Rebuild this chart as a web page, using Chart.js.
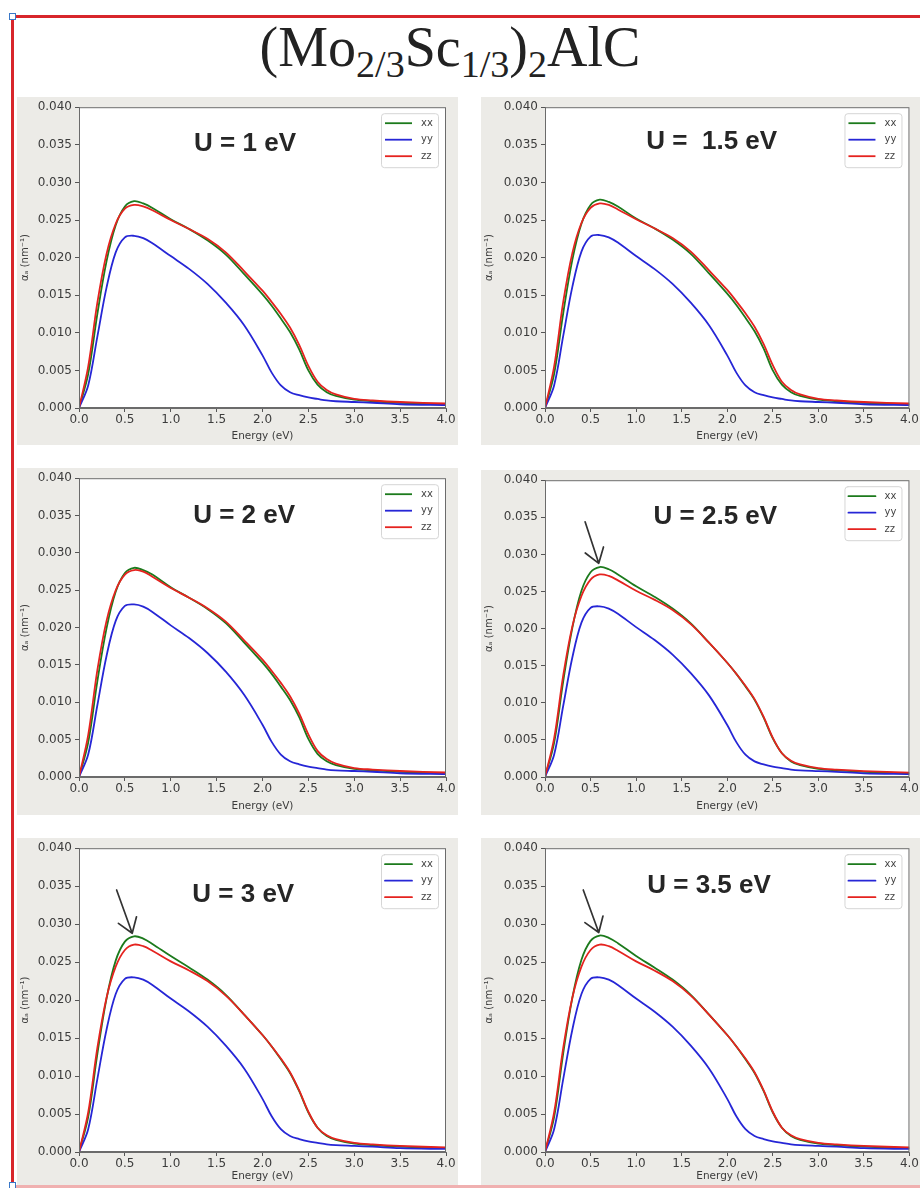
<!DOCTYPE html>
<html>
<head>
<meta charset="utf-8">
<script src="https://cdn.jsdelivr.net/npm/chart.js@4.4.1/dist/chart.umd.min.js"></script>
<style>
  body { margin: 0; width: 920px; height: 1188px; position: relative; overflow: hidden; background: #fff; }
  #frame { position: absolute; left: 11px; top: 15px; width: 930px; height: 1173px; border: 3px solid #d8262b;
           border-bottom-color: #f0b0b0; box-sizing: border-box; }
  .handle { position: absolute; width: 5px; height: 5px; border: 1px solid #3a78c8; background: #fff; }
  #title { position: absolute; left: 0; width: 900px; top: 19px; text-align: center;
           font-family: "Liberation Serif", serif; font-size: 56px; line-height: 1; color: #222; }
  #title sub { font-size: 0.68em; vertical-align: -0.28em; line-height: 0; color: #222; }
  .panel { position: absolute; background: #ecebe7; }
  .panel canvas { display: block; }
</style>
</head>
<body>
<div id="frame"></div>
<div class="handle" style="left:9px; top:13px;"></div>
<div class="handle" style="left:9px; top:1182px;"></div>
<div id="title">(Mo<sub>2/3</sub>Sc<sub>1/3</sub>)<sub>2</sub>AlC</div>

<script>
// --- data (alpha in nm^-1 vs energy in eV) ---
const energy = [0, 0.1, 0.2, 0.3, 0.4, 0.5, 0.6, 0.7, 0.8, 1.0, 1.2, 1.4, 1.6, 1.8, 2.0, 2.1, 2.2, 2.3, 2.4, 2.5, 2.6, 2.7, 2.8, 3.0, 3.2, 3.5, 4.0];

const xTicks = [0, 0.5, 1.0, 1.5, 2.0, 2.5, 3.0, 3.5, 4.0];
const yTicks = [0, 0.005, 0.010, 0.015, 0.020, 0.025, 0.030, 0.035, 0.040];
const seriesNames = ['xx', 'yy', 'zz'];
const panelLabels = ['U = 1 eV', 'U =  1.5 eV', 'U = 2 eV', 'U = 2.5 eV', 'U = 3 eV', 'U = 3.5 eV'];

// U = 1 eV
const xxU1 = [0, .0045, .0125, .0195, .0243, .0268, .0275, .0272, .0266, .0251, .0238, .0223, .0204, .0178, .0151, .0136, .0119, .0101, .0078, .0050, .0031, .0021, .0016, .0011, .0009, .0007, .0005];
const yyU1 = [0, .0030, .0095, .0160, .0207, .0227, .0229, .0226, .0219, .0202, .0185, .0165, .0140, .0110, .0070, .0047, .0030, .0021, .0017, .0014, .0012, .0010, .0009, .0008, .0007, .0005, .0004];
const zzU1 = [0, .0055, .0140, .0205, .0245, .0265, .0270, .0268, .0263, .0250, .0238, .0225, .0207, .0182, .0156, .0141, .0125, .0107, .0084, .0056, .0035, .0024, .0018, .0012, .0010, .0008, .0006];
// U = 1.5 eV
const xxU15 = [0, .0045, .0126, .0197, .0245, .0270, .0277, .0274, .0268, .0252, .0239, .0224, .0205, .0179, .0152, .0137, .0120, .0102, .0079, .0050, .0031, .0021, .0016, .0011, .0009, .0007, .0005];
const yyU15 = [0, .0030, .0096, .0161, .0208, .0228, .0230, .0227, .0220, .0202, .0185, .0165, .0140, .0110, .0070, .0047, .0030, .0021, .0017, .0014, .0012, .0010, .0009, .0008, .0007, .0005, .0004];
const zzU15 = [0, .0055, .0141, .0206, .0246, .0266, .0272, .0270, .0264, .0251, .0239, .0226, .0208, .0183, .0157, .0142, .0126, .0108, .0085, .0057, .0035, .0024, .0018, .0012, .0010, .0008, .0006];
// U = 2 eV
const xxU2 = [0, .0046, .0128, .0199, .0248, .0273, .0280, .0277, .0271, .0254, .0240, .0225, .0206, .0180, .0153, .0138, .0121, .0103, .0080, .0051, .0031, .0021, .0016, .0011, .0009, .0007, .0005];
const yyU2 = [0, .0030, .0096, .0162, .0209, .0229, .0231, .0228, .0221, .0203, .0186, .0166, .0141, .0110, .0070, .0047, .0030, .0021, .0017, .0014, .0012, .0010, .0009, .0008, .0007, .0005, .0004];
const zzU2 = [0, .0056, .0143, .0209, .0250, .0271, .0277, .0275, .0268, .0253, .0240, .0226, .0208, .0183, .0157, .0142, .0126, .0108, .0085, .0057, .0035, .0024, .0018, .0012, .0010, .0008, .0006];
// U = 2.5 eV
const xxU25 = [0, .0046, .0129, .0201, .0251, .0276, .0283, .0280, .0273, .0257, .0243, .0227, .0207, .0181, .0154, .0139, .0122, .0104, .0080, .0052, .0032, .0021, .0016, .0011, .0009, .0007, .0005];
const yyU25 = [0, .0030, .0096, .0161, .0208, .0228, .0230, .0227, .0220, .0202, .0185, .0165, .0140, .0110, .0070, .0047, .0030, .0021, .0017, .0014, .0012, .0010, .0009, .0008, .0007, .0005, .0004];
const zzU25 = [0, .0052, .0137, .0203, .0244, .0266, .0273, .0271, .0265, .0251, .0239, .0225, .0206, .0181, .0154, .0139, .0123, .0105, .0081, .0053, .0032, .0022, .0017, .0012, .0010, .0008, .0006];
// U = 3 eV
const xxU3 = [0, .0046, .0129, .0202, .0252, .0277, .0284, .0281, .0274, .0258, .0243, .0227, .0207, .0181, .0154, .0139, .0122, .0104, .0080, .0052, .0032, .0021, .0016, .0011, .0009, .0007, .0005];
const yyU3 = [0, .0030, .0096, .0161, .0208, .0228, .0230, .0227, .0220, .0202, .0185, .0165, .0140, .0110, .0070, .0047, .0030, .0021, .0017, .0014, .0012, .0010, .0009, .0008, .0007, .0005, .0004];
const zzU3 = [0, .0052, .0137, .0203, .0244, .0266, .0273, .0271, .0265, .0251, .0239, .0225, .0206, .0181, .0154, .0139, .0123, .0105, .0081, .0053, .0032, .0022, .0017, .0012, .0010, .0008, .0006];
// U = 3.5 eV
const xxU35 = [0, .0046, .0130, .0203, .0253, .0278, .0285, .0282, .0275, .0258, .0243, .0227, .0207, .0181, .0154, .0139, .0122, .0104, .0080, .0052, .0032, .0021, .0016, .0011, .0009, .0007, .0005];
const yyU35 = [0, .0030, .0096, .0161, .0208, .0228, .0230, .0227, .0220, .0202, .0185, .0165, .0140, .0110, .0070, .0047, .0030, .0021, .0017, .0014, .0012, .0010, .0009, .0008, .0007, .0005, .0004];
const zzU35 = [0, .0052, .0137, .0203, .0244, .0266, .0273, .0271, .0265, .0251, .0239, .0225, .0206, .0181, .0154, .0139, .0123, .0105, .0081, .0053, .0032, .0022, .0017, .0012, .0010, .0008, .0006];

const panelSeries = [
  [xxU1, yyU1, zzU1],
  [xxU15, yyU15, zzU15],
  [xxU2, yyU2, zzU2],
  [xxU25, yyU25, zzU25],
  [xxU3, yyU3, zzU3],
  [xxU35, yyU35, zzU35]
];

// --- layout: grey panel box and plot area, in page pixels ---
const layout = [
  { bg: [17, 97, 441, 348],  plot: [79, 105, 446, 408],  label: [1.81, 0.0351], arrow: null },
  { bg: [481, 97, 439, 348], plot: [545, 105, 910, 408], label: [1.83, 0.0354], arrow: null },
  { bg: [17, 468, 441, 347], plot: [79, 478, 446, 777],  label: [1.80, 0.0350], arrow: null },
  { bg: [481, 470, 439, 345], plot: [545, 478, 910, 777], label: [1.87, 0.0350], arrow: [[0.44, 0.0344], [0.59, 0.0288]] },
  { bg: [17, 838, 441, 347], plot: [79, 848, 446, 1152], label: [1.79, 0.0338], arrow: [[0.41, 0.0345], [0.58, 0.0288]] },
  { bg: [481, 838, 439, 347], plot: [545, 848, 910, 1152], label: [1.80, 0.0351], arrow: [[0.42, 0.0345], [0.59, 0.0289]] }
];

const lineColors = ['#1c7a1c', '#2626d6', '#e5231f'];
const tickFont = { family: 'DejaVu Sans', size: 12 };

// white plot area, box, "U = .." label, arrow and legend inside the plot
function makeDecor(info) {
  return {
    id: 'decor',
    beforeDraw(chart) {
      const { ctx, chartArea: a } = chart;
      ctx.save();
      ctx.fillStyle = '#ffffff';
      ctx.fillRect(a.left, a.top, a.right - a.left, a.bottom - a.top);
      ctx.restore();
    },
    afterDraw(chart) {
      const { ctx, chartArea: a, scales: { x, y } } = chart;
      ctx.save();
      ctx.strokeStyle = '#6b6b6b';
      ctx.lineWidth = 1;
      ctx.strokeRect(a.left + 0.5, a.top + 0.5, a.right - a.left - 1, a.bottom - a.top - 1);

      ctx.font = 'bold 26px "Liberation Sans", Arial, sans-serif';
      ctx.fillStyle = '#262626';
      ctx.textAlign = 'center';
      ctx.textBaseline = 'middle';
      ctx.fillText(info.text, x.getPixelForValue(info.label[0]), y.getPixelForValue(info.label[1]));

      if (info.arrow) {
        const x0 = x.getPixelForValue(info.arrow[0][0]), y0 = y.getPixelForValue(info.arrow[0][1]);
        const x1 = x.getPixelForValue(info.arrow[1][0]), y1 = y.getPixelForValue(info.arrow[1][1]);
        const ang = Math.atan2(y1 - y0, x1 - x0);
        ctx.strokeStyle = '#333';
        ctx.lineWidth = 1.7;
        ctx.lineCap = 'round';
        ctx.beginPath();
        ctx.moveTo(x0, y0); ctx.lineTo(x1, y1);
        [0.6, -0.6].forEach(d => {
          ctx.moveTo(x1, y1);
          ctx.lineTo(x1 - 17 * Math.cos(ang + d), y1 - 17 * Math.sin(ang + d));
        });
        ctx.stroke();
      }

      // legend box, top right
      const bx = a.right - 65, by = a.top + 6, bw = 57, bh = 54;
      ctx.fillStyle = 'rgba(255,255,255,0.85)';
      ctx.strokeStyle = '#d6d6d6';
      ctx.lineWidth = 1;
      ctx.beginPath();
      ctx.roundRect(bx + 0.5, by + 0.5, bw, bh, 3);
      ctx.fill(); ctx.stroke();
      ctx.font = '10px "DejaVu Sans", sans-serif';
      ctx.textAlign = 'left';
      ctx.textBaseline = 'middle';
      seriesNames.forEach((name, i) => {
        const ly = by + 10 + i * 16.5;
        ctx.strokeStyle = lineColors[i];
        ctx.lineWidth = 1.8;
        ctx.beginPath();
        ctx.moveTo(bx + 4, ly); ctx.lineTo(bx + 31, ly);
        ctx.stroke();
        ctx.fillStyle = '#444';
        ctx.fillText(name, bx + 40, ly);
      });
      ctx.restore();
    }
  };
}

layout.forEach((box, p) => {
  const [bx, by, bw, bh] = box.bg;
  const [pl, pt, pr, pb] = box.plot;
  const div = document.createElement('div');
  div.className = 'panel';
  div.style.left = bx + 'px';
  div.style.top = by + 'px';
  div.style.width = bw + 'px';
  div.style.height = bh + 'px';
  const canvas = document.createElement('canvas');
  canvas.width = bw;
  canvas.height = bh;
  div.appendChild(canvas);
  document.body.appendChild(div);

  const axisW = pl - bx, padTop = pt - by, padRight = bx + bw - pr, axisH = by + bh - pb;

  const datasets = panelSeries[p].map((vals, i) => ({
    label: seriesNames[i],
    data: vals.map((v, k) => ({ x: energy[k], y: v })),
    borderColor: lineColors[i],
    borderWidth: 1.8,
    pointRadius: 0,
    fill: false,
    tension: 0.35,
    order: 3 - i
  }));

  new Chart(canvas, {
    type: 'line',
    data: { datasets: datasets },
    options: {
      responsive: false,
      animation: false,
      devicePixelRatio: 1,
      layout: { padding: { top: padTop, right: padRight, left: 0, bottom: 0 } },
      plugins: { legend: { display: false }, tooltip: { enabled: false } },
      scales: {
        x: {
          type: 'linear',
          min: 0, max: 4,
          afterFit: s => { s.height = axisH; },
          afterBuildTicks: s => { s.ticks = xTicks.map(v => ({ value: v })); },
          ticks: { font: tickFont, color: '#3c3c3c', padding: 1, maxRotation: 0, autoSkip: false,
                   callback: v => v.toFixed(1) },
          grid: { drawOnChartArea: false, drawTicks: true, tickLength: 4, tickColor: '#555' },
          border: { display: true, color: '#6b6b6b' },
          title: { display: true, text: 'Energy (eV)', color: '#3c3c3c',
                   font: { family: 'DejaVu Sans', size: 10.5 }, padding: { top: 0, bottom: 2 } }
        },
        y: {
          min: 0, max: 0.04,
          afterFit: s => { s.width = axisW; },
          afterBuildTicks: s => { s.ticks = yTicks.map(v => ({ value: v })); },
          ticks: { font: tickFont, color: '#3c3c3c', padding: 3, autoSkip: false,
                   callback: v => v.toFixed(3) },
          grid: { drawOnChartArea: false, drawTicks: true, tickLength: 4, tickColor: '#555' },
          border: { display: true, color: '#6b6b6b' },
          title: { display: true, text: 'αₐ (nm⁻¹)', color: '#3c3c3c',
                   font: { family: 'DejaVu Sans', size: 10 }, padding: { top: 2, bottom: 0 } }
        }
      }
    },
    plugins: [makeDecor({ text: panelLabels[p], label: box.label, arrow: box.arrow })]
  });
});
</script>
</body>
</html>
